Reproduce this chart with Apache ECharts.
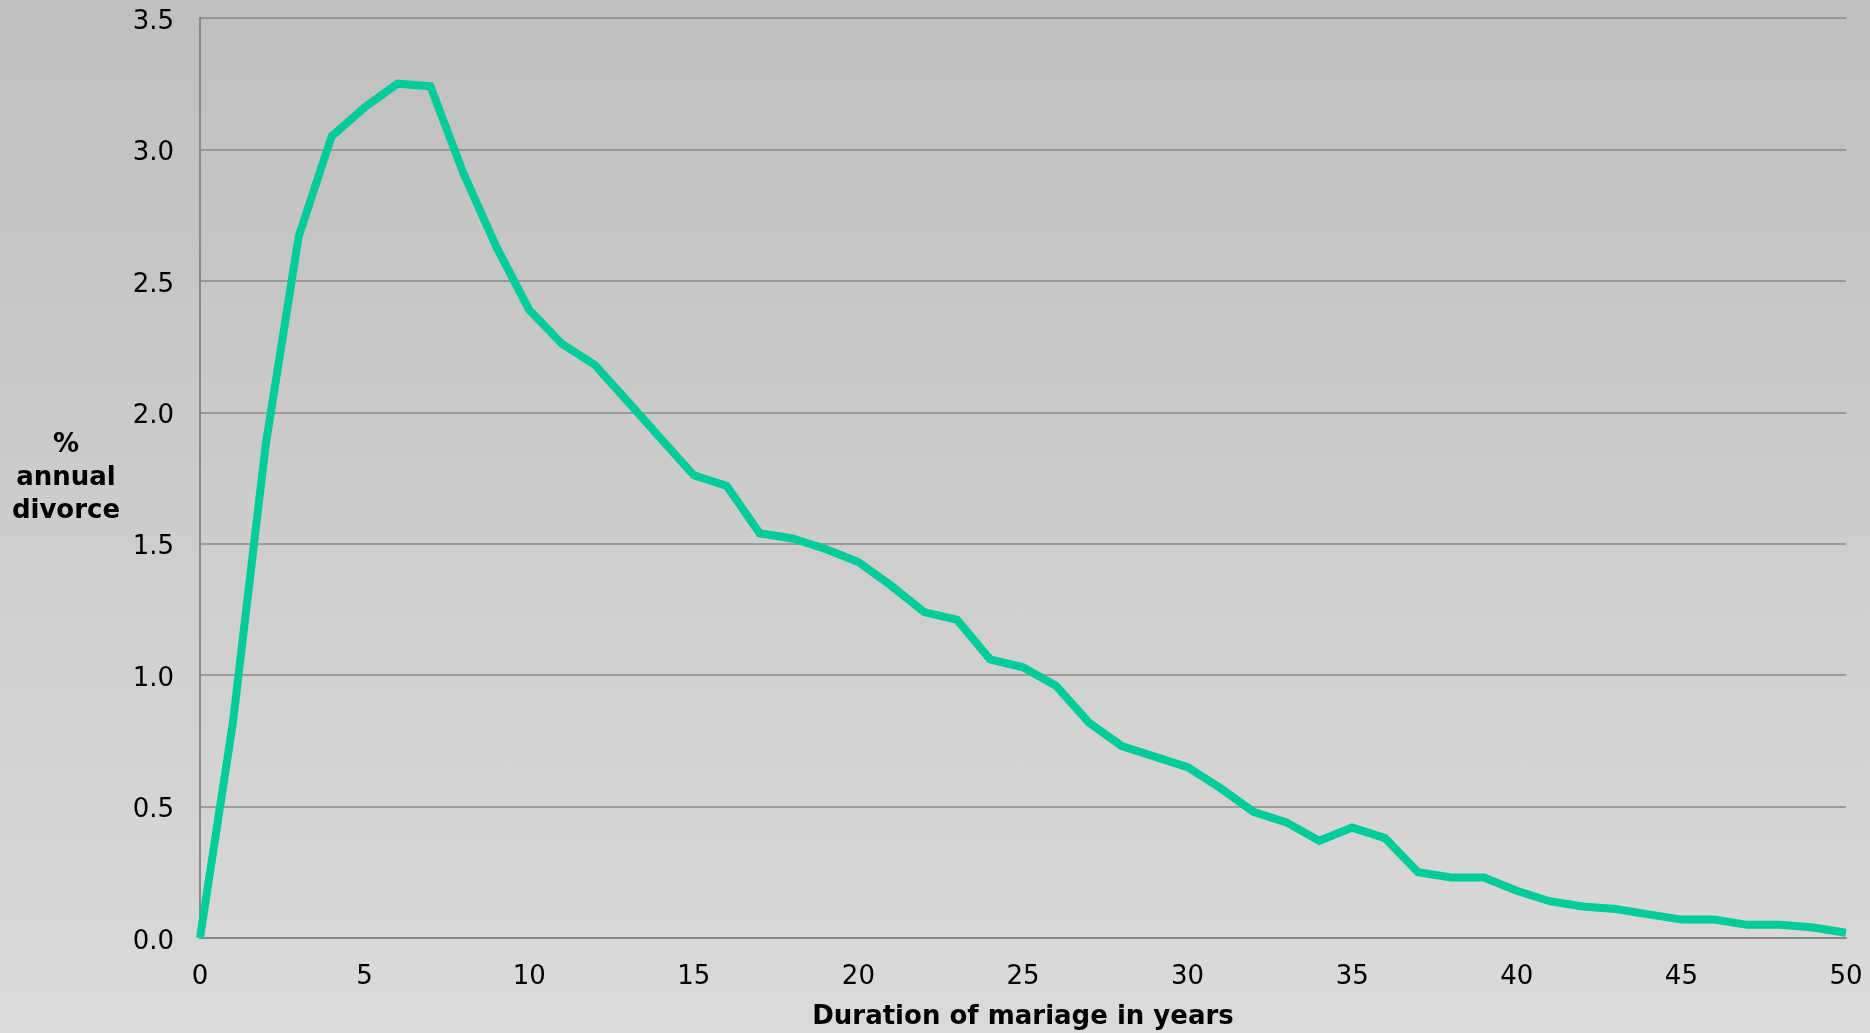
<!DOCTYPE html>
<html>
<head>
<meta charset="utf-8">
<script src="https://cdn.jsdelivr.net/npm/echarts@6/dist/echarts.min.js"></script>
<style>
  html, body { margin: 0; padding: 0; overflow: hidden; }
  #chart {
    width: 100vw; height: 100vh;
    background: linear-gradient(to bottom, #bfbfbf 0%, #dadada 100%);
  }
</style>
</head>
<body>
<div id="chart"></div>
<script>
// duration of marriage (years)
const years = [];
for (let i = 0; i <= 50; i++) years.push(i);

// % annual divorce
const divorceRate = [
  0.00, 0.82, 1.88, 2.67, 3.05, 3.16, 3.25, 3.24, 2.91, 2.63,
  2.39, 2.26, 2.18, 2.04, 1.90, 1.76, 1.72, 1.54, 1.52, 1.48,
  1.43, 1.34, 1.24, 1.21, 1.06, 1.03, 0.96, 0.82, 0.73, 0.69,
  0.65, 0.57, 0.48, 0.44, 0.37, 0.42, 0.38, 0.25, 0.23, 0.23,
  0.18, 0.14, 0.12, 0.11, 0.09, 0.07, 0.07, 0.05, 0.05, 0.04,
  0.02
];

const xTicks = [0, 5, 10, 15, 20, 25, 30, 35, 40, 45, 50];
const yTicks = [0, 0.5, 1.0, 1.5, 2.0, 2.5, 3.0, 3.5];
const yName = ['%', 'annual', 'divorce'];

const font = 'DejaVu Sans';
const gridColor = '#8a8a8a';

let myChart = echarts.init(document.getElementById('chart'));

const option = {
  backgroundColor: 'transparent',
  animation: false,
  grid: { left: 200, right: 24, top: 18, bottom: 95, outerBoundsMode: 'none', containLabel: false },
  xAxis: {
    type: 'value',
    min: xTicks[0],
    max: xTicks[xTicks.length - 1],
    interval: 5,
    name: 'Duration of mariage in years',
    nameLocation: 'middle',
    nameGap: 66,
    nameTextStyle: { fontFamily: font, fontWeight: 'bold', fontSize: 26, color: '#000' },
    axisLine: { show: true, lineStyle: { color: gridColor, width: 2 } },
    axisTick: { show: false },
    splitLine: { show: false },
    axisLabel: { fontFamily: font, fontSize: 26, color: '#000', margin: 26 }
  },
  yAxis: {
    type: 'value',
    min: yTicks[0],
    max: yTicks[yTicks.length - 1],
    interval: 0.5,
    name: yName.join('\n'),
    nameLocation: 'middle',
    nameRotate: 0,
    nameGap: 134,
    nameTextStyle: {
      fontFamily: font, fontWeight: 'bold', fontSize: 26, color: '#000',
      align: 'center', verticalAlign: 'middle', lineHeight: 33
    },
    axisLine: { show: true, lineStyle: { color: gridColor, width: 2 } },
    axisTick: { show: false },
    splitLine: { show: true, lineStyle: { color: gridColor, width: 1.5 } },
    axisLabel: {
      fontFamily: font, fontSize: 26, color: '#000', margin: 26,
      // small line box so the digits sit a bit below the gridline, as in the original
      verticalAlign: 'top', lineHeight: 8,
      formatter: v => v.toFixed(1)
    }
  },
  series: [{
    type: 'line',
    data: years.map((y, i) => [y, divorceRate[i]]),
    showSymbol: false,
    lineStyle: { color: '#00cc99', width: 8, join: 'miter' },
    itemStyle: { color: '#00cc99' }
  }]
};

myChart.setOption(option);
window.onresize = () => myChart.resize();
</script>
</body>
</html>
